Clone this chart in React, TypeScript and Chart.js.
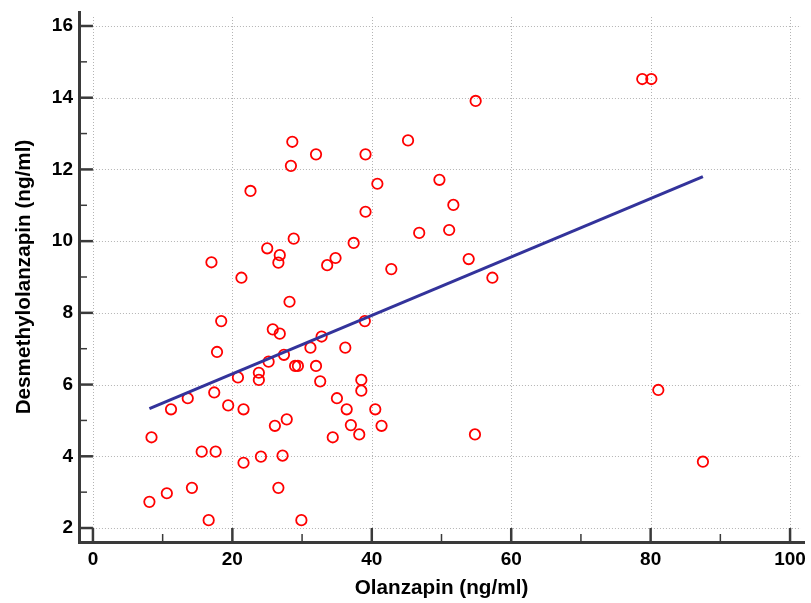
import React, { useEffect, useRef } from "react";
import { Chart, registerables } from "chart.js";

Chart.register(...registerables);

const olanzapin = [
  8.1, 8.4, 10.6, 11.2, 13.6, 14.2, 15.6, 16.6, 17.0, 17.4, 17.6, 17.8, 18.4, 19.4, 20.8, 21.3, 21.6, 21.6, 22.6,
  23.8, 23.8, 24.1, 25.0, 25.2, 25.8, 26.1, 26.6, 26.6, 26.8, 26.8, 27.2, 27.4, 27.8, 28.2, 28.4, 28.6, 28.8,
  29.0, 29.4, 29.9, 31.2, 32.0, 32.0, 32.6, 32.8, 33.6, 34.4, 34.8, 35.0, 36.2, 36.4, 37.0, 37.4, 38.2, 38.5,
  38.5, 39.0, 39.1, 39.1, 40.5, 40.8, 41.4, 42.8, 45.2, 46.8, 49.7, 51.1, 51.7, 53.9, 54.8, 54.9, 57.3, 78.8,
  80.1, 81.1, 87.5,
];
const desmethyl = [
  2.73, 4.53, 2.97, 5.31, 5.62, 3.12, 4.13, 2.22, 9.41, 5.78, 4.13, 6.91, 7.77, 5.42, 6.2, 8.98, 5.31, 3.82, 11.4,
  6.33, 6.13, 3.99, 9.8, 6.64, 7.54, 4.85, 9.4, 3.12, 9.61, 7.42, 4.02, 6.83, 5.03, 8.31, 12.1, 12.77, 10.07,
  6.52, 6.52, 2.22, 7.03, 12.42, 6.52, 6.09, 7.34, 9.33, 4.53, 9.53, 5.62, 7.03, 5.31, 4.87, 9.95, 4.61, 6.13,
  5.83, 7.77, 12.42, 10.82, 5.31, 11.6, 4.85, 9.22, 12.81, 10.23, 11.71, 10.31, 11.01, 9.5, 4.61, 13.91, 8.98,
  14.52, 14.52, 5.85, 3.85,
];
const fitX = [8.1, 87.5];
const fitY = [5.33, 11.8];

const xTicks = [0, 20, 40, 60, 80, 100];
const xMinorTicks = [10, 30, 50, 70, 90];
const yTicks = [2, 4, 6, 8, 10, 12, 14, 16];
const yMinorTicks = [3, 5, 7, 9, 11, 13, 15];

const FONT = "'Liberation Sans', Arial, sans-serif";

const gridAndTicks = {
  id: "gridAndTicks",
  beforeDatasetsDraw(chart: any) {
    const { ctx, chartArea, scales } = chart;
    const xs = scales.x;
    const ys = scales.y;
    const x0 = xs.getPixelForValue(xTicks[0]);
    const y0 = ys.getPixelForValue(yTicks[0]);
    ctx.save();
    ctx.strokeStyle = "#b4b4b4";
    ctx.lineWidth = 1;
    ctx.setLineDash([1, 2]);
    xTicks.forEach((v) => {
      const px = Math.round(xs.getPixelForValue(v)) + 0.5;
      ctx.beginPath();
      ctx.moveTo(px, y0);
      ctx.lineTo(px, chartArea.top + 4);
      ctx.stroke();
    });
    yTicks.forEach((v) => {
      const py = Math.round(ys.getPixelForValue(v)) + 0.5;
      ctx.beginPath();
      ctx.moveTo(x0, py);
      ctx.lineTo(chartArea.right - 3, py);
      ctx.stroke();
    });
    ctx.setLineDash([]);
    ctx.strokeStyle = "#3a3a3a";
    const bottom = chartArea.bottom;
    const left = chartArea.left;
    ctx.lineWidth = 2.5;
    xTicks.forEach((v) => {
      const px = xs.getPixelForValue(v);
      ctx.beginPath();
      ctx.moveTo(px, bottom);
      ctx.lineTo(px, y0);
      ctx.stroke();
    });
    yTicks.forEach((v) => {
      const py = ys.getPixelForValue(v);
      ctx.beginPath();
      ctx.moveTo(left, py);
      ctx.lineTo(x0, py);
      ctx.stroke();
    });
    ctx.lineWidth = 1.5;
    xMinorTicks.forEach((v) => {
      const px = xs.getPixelForValue(v);
      ctx.beginPath();
      ctx.moveTo(px, bottom);
      ctx.lineTo(px, bottom - 8);
      ctx.stroke();
    });
    yMinorTicks.forEach((v) => {
      const py = ys.getPixelForValue(v);
      ctx.beginPath();
      ctx.moveTo(left, py);
      ctx.lineTo(left + 8, py);
      ctx.stroke();
    });
    ctx.restore();
  },
};

const zeroPad = (s: any) => {
  s.paddingTop = 0;
  s.paddingBottom = 0;
  s.paddingLeft = 0;
  s.paddingRight = 0;
};

export default function App() {
  const ref = useRef<HTMLCanvasElement | null>(null);
  useEffect(() => {
    if (!ref.current) return;
    const chart = new Chart(ref.current, {
      type: "scatter",
      data: {
        datasets: [
          {
            type: "line",
            data: fitX.map((x, i) => ({ x, y: fitY[i] })),
            borderColor: "#33339b",
            borderWidth: 3,
            pointRadius: 0,
            fill: false,
          } as any,
          {
            data: olanzapin.map((x, i) => ({ x, y: desmethyl[i] })),
            pointRadius: 5.2,
            pointBorderWidth: 1.8,
            borderColor: "#ff0000",
            backgroundColor: "rgba(0,0,0,0)",
            pointStyle: "circle",
          },
        ],
      },
      options: {
        animation: false,
        responsive: false,
        maintainAspectRatio: false,
        layout: { padding: { top: 12, right: 3, left: 0, bottom: 0 } },
        plugins: { legend: { display: false }, tooltip: { enabled: false } },
        scales: {
          x: {
            type: "linear",
            min: -2,
            max: 102,
            afterBuildTicks: (s: any) => {
              s.ticks = xTicks.map((v) => ({ value: v }));
            },
            afterFit: (s: any) => {
              s.height = 61;
              zeroPad(s);
            },
            grid: { display: false, drawTicks: false },
            border: { display: true, color: "#3a3a3a", width: 3 },
            ticks: {
              autoSkip: false,
              maxRotation: 0,
              padding: 6,
              color: "#000",
              font: { family: FONT, size: 19, weight: "bold" },
              callback: (v: any) => String(v),
            },
            title: {
              display: true,
              text: "Olanzapin (ng/ml)",
              color: "#000",
              font: { family: FONT, size: 20.7, weight: "bold" },
              padding: { top: 0, bottom: 2 },
            },
          },
          y: {
            type: "linear",
            min: 1.61,
            max: 16.39,
            afterBuildTicks: (s: any) => {
              s.ticks = yTicks.map((v) => ({ value: v }));
            },
            afterFit: (s: any) => {
              s.width = 79;
              zeroPad(s);
            },
            grid: { display: false, drawTicks: false },
            border: { display: true, color: "#3a3a3a", width: 3 },
            ticks: {
              autoSkip: false,
              padding: 6,
              color: "#000",
              font: { family: FONT, size: 19, weight: "bold" },
              callback: (v: any) => String(v),
            },
            title: {
              display: true,
              text: "Desmethylolanzapin (ng/ml)",
              color: "#000",
              font: { family: FONT, size: 20.7, weight: "bold" },
              padding: { top: 12, bottom: 0 },
            },
          },
        },
      },
      plugins: [gridAndTicks],
    } as any);
    return () => chart.destroy();
  }, []);
  return (
    <div style={{ position: "absolute", left: 0, top: 0, width: 811, height: 603 }}>
      <canvas ref={ref} width={811} height={603} style={{ width: 811, height: 603, display: "block" }} />
    </div>
  );
}
